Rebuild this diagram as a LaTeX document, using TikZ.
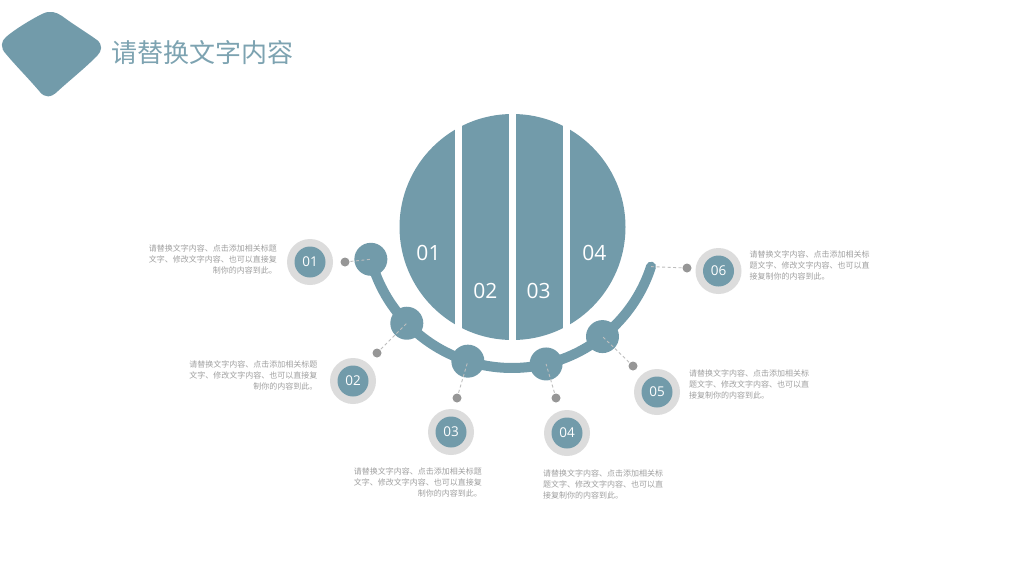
\documentclass[tikz,border=0pt]{standalone}
\usepackage{fontspec}
\usetikzlibrary{calc}
\setmainfont{Open Sans}
\newfontfamily\cjk{Noto Sans CJK SC}
\definecolor{teal1}{RGB}{114,155,170}
\definecolor{titlecol}{RGB}{125,163,177}
\definecolor{ringgray}{RGB}{220,220,220}
\definecolor{dotgray}{RGB}{150,150,150}
\definecolor{dashgray}{RGB}{190,190,190}
\definecolor{descgray}{RGB}{160,160,160}
\begin{document}
\begin{tikzpicture}[x=1pt,y=-1pt,
  arcdot/.style={circle,fill=teal1,minimum size=33pt,inner sep=0pt},
  gdot/.style={circle,fill=dotgray,minimum size=9pt,inner sep=0pt},
  ringnode/.style={circle,fill=ringgray,minimum size=46pt,inner sep=0pt},
  numdisk/.style={circle,fill=teal1,minimum size=31pt,inner sep=0pt,text=white,font=\fontsize{13.5}{15}\selectfont},
  conn/.style={draw=dashgray,line width=0.9pt,dash pattern=on 3pt off 2.5pt},
  descr/.style={font=\cjk\fontsize{8}{10.8}\selectfont,text=descgray,inner sep=0pt},
  descl/.style={descr,align=left,anchor=north west},
  descrr/.style={descr,align=right,anchor=north east},
  bignum/.style={text=white,font=\fontsize{21}{24}\selectfont,inner sep=0pt},
  gap/.style={fill=white}]
\useasboundingbox (0,0) rectangle (1024,576);
\fill[white] (0,0) rectangle (1024,576);

% title blob
\fill[teal1] (6,37) .. controls (14,30) and (30,20) .. (42,14)
  .. controls (50,10) and (56,12) .. (62,16)
  .. controls (74,25) and (86,32) .. (97,40)
  .. controls (103,45) and (102,51) .. (97,56)
  .. controls (84,69) and (70,80) .. (58,91)
  .. controls (51,98) and (45,98) .. (40,92)
  .. controls (29,79) and (16,66) .. (6,54)
  .. controls (0,48) and (1,41) .. (6,37) -- cycle;
\node[anchor=west,text=titlecol,font=\cjk\fontsize{26}{30}\selectfont,inner sep=0pt] (title) at (111,53) {请替换文字内容};

% big circle with strips
\node[circle,fill=teal1,minimum size=226pt,inner sep=0pt] (big) at (512.5,227) {};
\fill[gap] (455,105) rectangle (462,350);
\fill[gap] (509,105) rectangle (516,350);
\fill[gap] (563,105) rectangle (570,350);
\node[bignum] (b1) at (428.5,252.5) {01};
\node[bignum] (b2) at (485.3,290.5) {02};
\node[bignum] (b3) at (538.7,290.5) {03};
\node[bignum] (b4) at (594.3,252.5) {04};

% arc
\coordinate (c) at (512,222);
\draw[teal1,line width=10pt,line cap=round] plot[domain=165.2:17.8,samples=90] ({512+146*cos(\x)},{222+146*sin(\x)});
\coordinate (aend) at ($(c)+(17.8:146)$);
\node[arcdot] (d1) at ($(c)+(165.2:146)$) {};
\node[arcdot] (d2) at ($(c)+(136.1:146)$) {};
\node[arcdot] (d3) at ($(c)+(107.6:146)$) {};
\node[arcdot] (d4) at ($(c)+(76.5:146)$) {};
\node[arcdot] (d5) at ($(c)+(51.7:146)$) {};

% gray dots
\coordinate (g1p) at (345,262);
\coordinate (g2p) at (377,353);
\coordinate (g3p) at (457,398);
\coordinate (g4p) at (556,398);
\coordinate (g5p) at (633,366);
\coordinate (g6p) at (687,268);
\draw[conn] (g1p) -- (d1.center);
\draw[conn] (g2p) -- (d2.center);
\draw[conn] (g3p) -- (d3.center);
\draw[conn] (g4p) -- (d4.center);
\draw[conn] (g5p) -- (d5.center);
\draw[conn] (g6p) -- (aend);
\node[gdot] (g1) at (g1p) {};
\node[gdot] (g2) at (g2p) {};
\node[gdot] (g3) at (g3p) {};
\node[gdot] (g4) at (g4p) {};
\node[gdot] (g5) at (g5p) {};
\node[gdot] (g6) at (g6p) {};

% number circles
\node[ringnode] (r1) at (310,262) {};
\node[numdisk] (n1) at (310,262) {01};
\node[ringnode] (r2) at (353,381) {};
\node[numdisk] (n2) at (353,381) {02};
\node[ringnode] (r3) at (451,432) {};
\node[numdisk] (n3) at (451,432) {03};
\node[ringnode] (r4) at (567,433) {};
\node[numdisk] (n4) at (567,433) {04};
\node[ringnode] (r5) at (657,392) {};
\node[numdisk] (n5) at (657,392) {05};
\node[ringnode] (r6) at (718.5,271) {};
\node[numdisk] (n6) at (718.5,271) {06};

% descriptions
\node[descrr] (t1) at (277,244.5) {请替换文字内容、点击添加相关标题\\文字、修改文字内容、也可以直接复\\制你的内容到此。};
\node[descrr] (t2) at (317.5,361) {请替换文字内容、点击添加相关标题\\文字、修改文字内容、也可以直接复\\制你的内容到此。};
\node[descrr] (t3) at (482,468) {请替换文字内容、点击添加相关标题\\文字、修改文字内容、也可以直接复\\制你的内容到此。};
\node[descl] (t4) at (543,470) {请替换文字内容、点击添加相关标\\题文字、修改文字内容、也可以直\\接复制你的内容到此。};
\node[descl] (t5) at (689,370) {请替换文字内容、点击添加相关标\\题文字、修改文字内容、也可以直\\接复制你的内容到此。};
\node[descl] (t6) at (749.5,251) {请替换文字内容、点击添加相关标\\题文字、修改文字内容、也可以直\\接复制你的内容到此。};
\end{tikzpicture}
\end{document}
